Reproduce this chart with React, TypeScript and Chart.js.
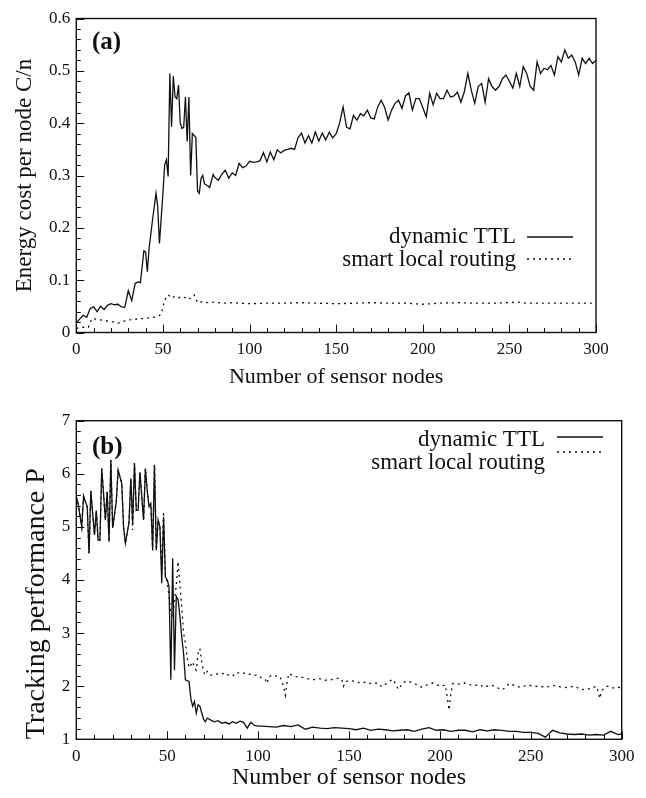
import React, { useEffect, useRef } from "react";
import { Chart, registerables } from "chart.js";

Chart.register(...registerables);

const FONT = "'Liberation Serif', 'Times New Roman', serif";
const INK = "#111111";

// ---------- Panel (a): energy cost per node ----------
const nodesTtlA = [0, 2, 4, 6, 8, 10, 12, 14, 16, 18, 20, 22, 24, 26, 28, 30, 32, 34, 36, 37, 39, 40, 41, 42, 44, 46, 47, 48, 50, 51, 52, 53, 54, 55, 56, 57, 58, 59, 60, 61, 62, 63, 64, 65, 66, 67, 69, 70, 71, 72, 73, 74, 76, 77, 79, 80, 82, 84, 86, 88, 90, 92, 94, 96, 98, 100, 102, 104, 106, 108, 110, 112, 114, 116, 118, 120, 122, 124, 126, 128, 130, 132, 134, 136, 138, 140, 142, 144, 146, 148, 150, 152, 154, 156, 158, 160, 162, 164, 166, 168, 170, 172, 174, 176, 178, 180, 182, 184, 186, 188, 190, 192, 194, 196, 198, 200, 202, 204, 206, 208, 210, 212, 214, 216, 218, 220, 222, 224, 226, 228, 230, 232, 234, 236, 238, 240, 242, 244, 246, 248, 250, 252, 254, 256, 258, 260, 262, 264, 266, 268, 270, 272, 274, 276, 278, 280, 282, 284, 286, 288, 290, 292, 294, 296, 298, 300];
const costTtlA = [0.018, 0.026, 0.033, 0.029, 0.046, 0.049, 0.040, 0.050, 0.044, 0.052, 0.055, 0.053, 0.054, 0.049, 0.048, 0.080, 0.061, 0.094, 0.097, 0.095, 0.156, 0.154, 0.116, 0.160, 0.215, 0.266, 0.240, 0.170, 0.266, 0.320, 0.330, 0.298, 0.495, 0.393, 0.490, 0.450, 0.447, 0.473, 0.400, 0.390, 0.392, 0.450, 0.365, 0.450, 0.300, 0.380, 0.373, 0.270, 0.266, 0.295, 0.300, 0.284, 0.280, 0.277, 0.302, 0.296, 0.291, 0.302, 0.310, 0.295, 0.305, 0.300, 0.323, 0.315, 0.318, 0.327, 0.325, 0.326, 0.328, 0.344, 0.326, 0.345, 0.330, 0.349, 0.343, 0.348, 0.350, 0.352, 0.350, 0.372, 0.381, 0.362, 0.376, 0.362, 0.383, 0.366, 0.381, 0.368, 0.383, 0.372, 0.380, 0.400, 0.431, 0.392, 0.389, 0.415, 0.406, 0.418, 0.414, 0.425, 0.410, 0.408, 0.431, 0.444, 0.430, 0.406, 0.425, 0.438, 0.444, 0.428, 0.452, 0.458, 0.425, 0.447, 0.447, 0.430, 0.412, 0.457, 0.435, 0.457, 0.447, 0.447, 0.463, 0.450, 0.452, 0.459, 0.440, 0.460, 0.495, 0.463, 0.438, 0.470, 0.476, 0.440, 0.485, 0.470, 0.463, 0.470, 0.485, 0.492, 0.480, 0.467, 0.495, 0.470, 0.508, 0.495, 0.470, 0.463, 0.517, 0.495, 0.505, 0.502, 0.510, 0.492, 0.527, 0.517, 0.540, 0.524, 0.530, 0.517, 0.492, 0.524, 0.514, 0.524, 0.514, 0.520];

const nodesSlrA = [0, 4, 7, 9, 12, 16, 20, 24, 28, 32, 36, 40, 44, 47, 49, 51, 53, 55, 57, 59, 61, 63, 65, 67, 68, 70, 73, 76, 80, 85, 90, 95, 100, 110, 120, 130, 140, 150, 160, 170, 180, 190, 200, 210, 220, 230, 240, 250, 255, 260, 270, 280, 290, 300];
const costSlrA = [0.008, 0.010, 0.010, 0.027, 0.025, 0.023, 0.021, 0.018, 0.022, 0.025, 0.026, 0.027, 0.029, 0.030, 0.035, 0.062, 0.072, 0.066, 0.069, 0.066, 0.069, 0.066, 0.063, 0.070, 0.072, 0.057, 0.059, 0.057, 0.058, 0.056, 0.057, 0.056, 0.055, 0.056, 0.056, 0.057, 0.056, 0.055, 0.056, 0.057, 0.056, 0.056, 0.054, 0.056, 0.057, 0.056, 0.056, 0.057, 0.058, 0.056, 0.056, 0.056, 0.056, 0.056];

// ---------- Panel (b): tracking performance ----------
const nodesTtlB = [0, 1, 3, 4, 6, 7, 8, 9, 10, 11, 12, 13, 14, 16, 17, 18, 19, 20, 22, 23, 25, 26, 27, 29, 30, 31, 32, 33, 34, 35, 37, 38, 39, 40, 41, 42, 43, 44, 45, 46, 47, 48, 49, 50, 51, 52, 53, 54, 55, 56, 57, 58, 59, 60, 62, 63, 64, 65, 66, 67, 68, 69, 70, 71, 72, 74, 76, 78, 80, 82, 84, 86, 88, 90, 92, 94, 96, 98, 100, 102, 106, 110, 114, 118, 122, 126, 130, 134, 138, 142, 146, 150, 154, 158, 162, 166, 170, 174, 178, 182, 186, 190, 194, 198, 202, 206, 210, 214, 218, 222, 226, 230, 234, 238, 242, 246, 250, 254, 258, 262, 266, 270, 274, 278, 282, 286, 290, 294, 298, 300];
const perfTtlB = [5.57, 5.44, 5.00, 5.58, 5.38, 4.50, 5.68, 5.25, 4.85, 5.31, 4.75, 4.75, 6.10, 5.13, 5.66, 4.72, 6.26, 4.98, 5.48, 6.07, 5.82, 5.00, 4.69, 5.09, 5.91, 5.06, 6.20, 5.31, 5.31, 6.03, 5.13, 6.10, 5.69, 5.38, 5.44, 4.56, 6.17, 4.56, 5.13, 5.00, 3.94, 5.19, 4.06, 4.00, 3.88, 2.12, 4.41, 2.30, 3.69, 3.63, 3.31, 2.93, 2.62, 2.12, 2.09, 1.77, 1.62, 1.71, 1.49, 1.65, 1.62, 1.50, 1.38, 1.33, 1.40, 1.36, 1.33, 1.35, 1.30, 1.32, 1.29, 1.33, 1.30, 1.34, 1.32, 1.21, 1.32, 1.26, 1.25, 1.25, 1.24, 1.23, 1.26, 1.24, 1.27, 1.19, 1.23, 1.21, 1.20, 1.22, 1.21, 1.20, 1.18, 1.21, 1.17, 1.19, 1.18, 1.16, 1.17, 1.18, 1.15, 1.19, 1.22, 1.17, 1.18, 1.15, 1.17, 1.17, 1.14, 1.18, 1.16, 1.18, 1.17, 1.15, 1.15, 1.13, 1.13, 1.11, 1.04, 1.17, 1.12, 1.10, 1.09, 1.10, 1.08, 1.09, 1.08, 1.15, 1.09, 1.10];

const nodesSlrB = [0, 1, 3, 4, 6, 7, 8, 9, 10, 11, 12, 13, 14, 16, 17, 18, 19, 20, 22, 23, 25, 26, 27, 29, 30, 31, 32, 33, 34, 35, 37, 38, 39, 40, 41, 42, 43, 44, 45, 46, 47, 48, 49, 50, 51, 52, 53, 54, 55, 56, 57, 58, 59, 60, 61, 62, 63, 64, 65, 66, 67, 68, 69, 70, 71, 72, 74, 76, 78, 80, 82, 84, 86, 88, 90, 92, 94, 96, 98, 100, 102, 104, 105, 106, 108, 110, 112, 114, 115, 116, 117, 120, 124, 126, 130, 134, 136, 140, 144, 146, 147, 148, 150, 154, 156, 160, 162, 166, 168, 172, 174, 176, 177, 180, 182, 186, 190, 194, 196, 200, 203, 204, 205, 206, 207, 210, 214, 218, 222, 224, 228, 230, 234, 236, 238, 242, 244, 248, 252, 256, 258, 262, 264, 268, 270, 274, 277, 280, 284, 286, 287, 288, 289, 292, 296, 298, 300];
const perfSlrB = [5.57, 5.44, 5.00, 5.58, 5.38, 4.50, 5.68, 5.25, 4.85, 5.31, 4.75, 4.75, 6.10, 5.13, 5.66, 4.72, 6.26, 4.98, 5.48, 6.07, 5.82, 5.00, 4.69, 5.09, 5.91, 4.94, 6.20, 5.31, 5.31, 6.03, 5.13, 6.10, 5.69, 5.38, 5.44, 4.56, 6.17, 4.56, 5.13, 5.00, 4.20, 5.29, 4.10, 3.95, 3.70, 3.40, 3.30, 3.60, 3.90, 4.35, 3.90, 3.50, 3.00, 2.81, 2.54, 2.35, 2.40, 2.46, 2.35, 2.30, 2.62, 2.71, 2.45, 2.27, 2.21, 2.28, 2.21, 2.21, 2.24, 2.23, 2.25, 2.20, 2.19, 2.26, 2.24, 2.25, 2.22, 2.23, 2.21, 2.21, 2.15, 2.12, 2.05, 2.18, 2.21, 2.19, 2.18, 2.00, 1.83, 2.10, 2.24, 2.18, 2.17, 2.15, 2.12, 2.14, 2.11, 2.12, 2.15, 2.13, 2.00, 2.08, 2.11, 2.09, 2.06, 2.08, 2.05, 2.06, 1.99, 2.08, 2.13, 2.03, 1.94, 2.07, 2.10, 2.05, 1.98, 2.04, 2.06, 2.00, 2.02, 1.80, 1.55, 1.85, 2.05, 2.04, 2.06, 2.01, 2.03, 1.98, 2.02, 2.00, 1.93, 1.97, 2.05, 2.00, 1.98, 2.02, 2.00, 1.99, 1.98, 2.01, 2.01, 1.97, 1.98, 2.00, 1.95, 1.93, 1.97, 2.00, 1.90, 1.77, 1.92, 2.00, 1.96, 1.98, 1.97];

const xTicks = [0, 50, 100, 150, 200, 250, 300];
const yTicksA = [0, 0.1, 0.2, 0.3, 0.4, 0.5, 0.6];
const yTicksB = [1, 2, 3, 4, 5, 6, 7];

const LABEL_TTL = "dynamic TTL";
const LABEL_SLR = "smart local routing";

const pts = (xs: number[], ys: number[]) => xs.map((x, i) => ({ x, y: ys[i] }));

// Frame + inward tick marks (major & minor), like the original plot
const frameTicks = {
  id: "frameTicks",
  afterDraw(chart: any, _args: any, opts: any) {
    const { ctx, chartArea } = chart;
    const { left, right, top, bottom } = chartArea;
    const xs = chart.scales.x;
    const ys = chart.scales.y;
    ctx.save();
    ctx.strokeStyle = INK;
    ctx.setLineDash([]);
    ctx.lineWidth = 1;
    const nx = Math.round((xs.max - xs.min) / opts.xMinor);
    for (let i = 0; i <= nx; i++) {
      const v = xs.min + i * opts.xMinor;
      const px = Math.round(xs.getPixelForValue(v)) + 0.5;
      const major = i % opts.xEvery === 0;
      ctx.beginPath();
      ctx.moveTo(px, bottom);
      ctx.lineTo(px, bottom - (major ? 8 : 4.5));
      ctx.stroke();
    }
    const ny = Math.round((ys.max - ys.min) / opts.yMinor);
    for (let i = 0; i <= ny; i++) {
      const v = ys.min + i * opts.yMinor;
      const py = Math.round(ys.getPixelForValue(v)) + 0.5;
      const major = i % opts.yEvery === 0;
      ctx.beginPath();
      ctx.moveTo(left, py);
      ctx.lineTo(left + (major ? 8 : 4.5), py);
      ctx.stroke();
    }
    ctx.lineWidth = 1.4;
    ctx.strokeRect(left, top, right - left, bottom - top);
    ctx.restore();
  },
};

// Key drawn like the original: label text, then line sample to the right
const lineKey = {
  id: "lineKey",
  afterDraw(chart: any, _args: any, opts: any) {
    const { ctx } = chart;
    ctx.save();
    ctx.font = `${opts.fontSize}px ${FONT}`;
    ctx.textAlign = "right";
    ctx.textBaseline = "middle";
    chart.data.datasets.forEach((ds: any, i: number) => {
      const row = opts.rows[i];
      ctx.setLineDash([]);
      ctx.fillStyle = INK;
      ctx.fillText(ds.label, opts.textRight, row.textY);
      ctx.setLineDash(ds.borderDash || []);
      ctx.lineWidth = ds.borderWidth;
      ctx.strokeStyle = ds.borderColor;
      ctx.beginPath();
      ctx.moveTo(opts.x1, row.lineY);
      ctx.lineTo(opts.x2, row.lineY);
      ctx.stroke();
    });
    ctx.setLineDash([]);
    ctx.font = `bold ${opts.panelSize}px ${FONT}`;
    ctx.textAlign = "left";
    ctx.textBaseline = "alphabetic";
    ctx.fillStyle = INK;
    ctx.fillText(opts.panel, opts.panelX, opts.panelY);
    ctx.restore();
  },
};

function makeConfig(p: any) {
  return {
    type: "line",
    data: {
      datasets: [
        {
          label: LABEL_TTL,
          data: p.ttl,
          borderColor: INK,
          borderWidth: 1.3,
          pointRadius: 0,
          tension: 0,
          fill: false,
        },
        {
          label: LABEL_SLR,
          data: p.slr,
          borderColor: INK,
          borderWidth: 1.3,
          borderDash: [2, 4],
          pointRadius: 0,
          tension: 0,
          fill: false,
        },
      ],
    },
    options: {
      animation: false,
      responsive: false,
      events: [],
      layout: { autoPadding: false, padding: p.padding },
      plugins: {
        legend: { display: false },
        tooltip: { enabled: false },
        lineKey: p.key,
        frameTicks: p.frame,
      },
      scales: {
        x: {
          type: "linear",
          min: 0,
          max: 300,
          afterBuildTicks: (s: any) => {
            s.ticks = xTicks.map((v) => ({ value: v }));
          },
          afterFit: (s: any) => {
            s.height = p.xHeight;
          },
          grid: { display: false, drawTicks: false },
          border: { display: false },
          ticks: {
            color: INK,
            padding: p.xTickPad,
            maxRotation: 0,
            font: { family: FONT, size: p.tickSize },
          },
          title: {
            display: true,
            text: "Number of sensor nodes",
            color: INK,
            font: { family: FONT, size: p.xTitleSize },
            padding: { top: 0, bottom: p.xTitlePad },
          },
        },
        y: {
          type: "linear",
          min: p.yMin,
          max: p.yMax,
          afterBuildTicks: (s: any) => {
            s.ticks = p.yTicks.map((v: number) => ({ value: v }));
          },
          afterFit: (s: any) => {
            s.width = p.yWidth;
          },
          grid: { display: false, drawTicks: false },
          border: { display: false },
          ticks: {
            color: INK,
            padding: 6,
            font: { family: FONT, size: p.tickSize },
            callback: (v: number) => (v === 0 ? "0" : String(Math.round(v * 10) / 10)),
          },
          title: {
            display: true,
            text: p.yTitle,
            align: p.yTitleAlign,
            color: INK,
            font: { family: FONT, size: p.yTitleSize },
            padding: { top: p.yTitlePad, bottom: 0 },
          },
        },
      },
    },
    plugins: [frameTicks, lineKey],
  };
}

function Panel(props: { cfg: any; width: number; height: number; top: number }) {
  const ref = useRef<HTMLCanvasElement | null>(null);
  useEffect(() => {
    if (!ref.current) return;
    const chart = new Chart(ref.current, props.cfg);
    return () => chart.destroy();
  }, []);
  return (
    <canvas
      ref={ref}
      width={props.width}
      height={props.height}
      style={{ position: "absolute", left: 0, top: props.top, width: props.width, height: props.height }}
    />
  );
}

export default function App() {
  const cfgA = makeConfig({
    ttl: pts(nodesTtlA, costTtlA),
    slr: pts(nodesSlrA, costSlrA),
    padding: { left: 0, top: 18.5, right: 50, bottom: 0 },
    xHeight: 67.5,
    yWidth: 76.3,
    yMin: 0,
    yMax: 0.6,
    yTicks: yTicksA,
    tickSize: 17,
    xTickPad: 7,
    xTitleSize: 22,
    xTitlePad: 10,
    yTitle: "Energy cost per node C/n",
    yTitleAlign: "center",
    yTitleSize: 23,
    yTitlePad: 11,
    key: {
      fontSize: 23,
      textRight: 516,
      x1: 527,
      x2: 573,
      rows: [
        { textY: 237, lineY: 237 },
        { textY: 260, lineY: 259 },
      ],
      panel: "(a)",
      panelX: 92,
      panelY: 49,
      panelSize: 25,
    },
    frame: { xMinor: 10, xEvery: 5, yMinor: 0.02, yEvery: 5 },
  });
  const cfgB = makeConfig({
    ttl: pts(nodesTtlB, perfTtlB),
    slr: pts(nodesSlrB, perfSlrB),
    padding: { left: 0, top: 20.7, right: 24.3, bottom: 0 },
    xHeight: 58.7,
    yWidth: 76.3,
    yMin: 1,
    yMax: 7,
    yTicks: yTicksB,
    tickSize: 17,
    xTickPad: 7,
    xTitleSize: 24,
    xTitlePad: 6,
    yTitle: "Tracking performance P",
    yTitleAlign: "start",
    yTitleSize: 28,
    yTitlePad: 20,
    key: {
      fontSize: 23,
      textRight: 545,
      x1: 557,
      x2: 603,
      rows: [
        { textY: 40, lineY: 37 },
        { textY: 63, lineY: 52 },
      ],
      panel: "(b)",
      panelX: 92,
      panelY: 54,
      panelSize: 25,
    },
    frame: { xMinor: 10, xEvery: 5, yMinor: 0.2, yEvery: 5 },
  });
  return (
    <div style={{ position: "absolute", left: 0, top: 0, width: 646, height: 798, background: "#fff" }}>
      <Panel cfg={cfgA} width={646} height={400} top={0} />
      <Panel cfg={cfgB} width={646} height={398} top={400} />
    </div>
  );
}
